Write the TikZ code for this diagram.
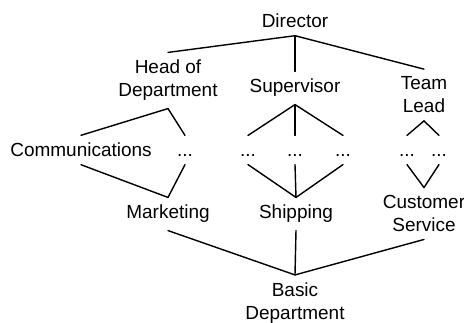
\documentclass[tikz,border=0pt]{standalone}
\usepackage{fontspec}
\setmainfont{Liberation Sans}
\begin{document}
\begin{tikzpicture}[x=0.02cm, y=-0.02cm, line cap=round, line width=0.8pt,
    role/.style={align=center, inner sep=4pt, font=\fontsize{10.8}{13.1}\selectfont},
    more/.style={role, text height=7.8pt, text depth=0pt}]
	\useasboundingbox (0,0) rectangle (464,322);
	% top of the hierarchy
	\node [role] (director) at (295,21) {Director};
	\node [role] (head) at (168,80.5) {Head of\\Department};
	\node [role] (supervisor) at (295,88) {Supervisor};
	\node [role] (teamlead) at (424,95) {Team\\Lead};
	\draw (director.south) -- (head.north);
	\draw (director.south) -- (supervisor.north);
	\draw (director.south) -- (teamlead.north);
	% middle level
	\node [role] (comm) at (81,150) {Communications};
	\node [more] (hdots) at (185,150) {...};
	\node [more] (sdots1) at (248,150) {...};
	\node [more] (sdots2) at (295,150) {...};
	\node [more] (sdots3) at (343,150) {...};
	\node [more] (tdots1) at (407,150) {...};
	\node [more] (tdots2) at (439,150) {...};
	\draw (head.south) -- (comm.north);
	\draw (head.south) -- (hdots.north);
	\foreach \d in {sdots1,sdots2,sdots3}
		\draw (supervisor.south) -- (\d.north);
	\foreach \d in {tdots1,tdots2}
		\draw (teamlead.south) -- (\d.north);
	% lower level
	\node [role] (marketing) at (168,214) {Marketing};
	\node [role] (shipping) at (296,214) {Shipping};
	\node [role] (custserv) at (424,213.5) {Customer\\Service};
	\draw (comm.south) -- (marketing.north);
	\draw (hdots.south) -- (marketing.north);
	\foreach \d in {sdots1,sdots2,sdots3}
		\draw (\d.south) -- (shipping.north);
	\foreach \d in {tdots1,tdots2}
		\draw (\d.south) -- (custserv.north);
	% bottom
	\node [role] (basic) at (295,303) {Basic\\Department};
	\draw (marketing.south) -- (basic.north);
	\draw (shipping.south) -- (basic.north);
	\draw (custserv.south) -- (basic.north);
\end{tikzpicture}
\end{document}
